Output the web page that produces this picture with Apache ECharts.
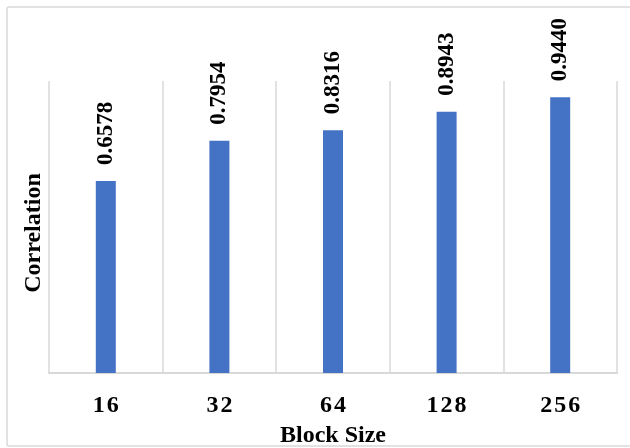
<!DOCTYPE html>
<html>
<head>
<meta charset="utf-8">
<script src="https://cdn.jsdelivr.net/npm/echarts@6/dist/echarts.min.js"></script>
<style>
  html, body { margin: 0; padding: 0; background: #fff; }
  #chart { width: 630px; height: 448px; }
</style>
</head>
<body>
<div id="chart"></div>
<script>
"use strict";

const blockSizes = ["16", "32", "64", "128", "256"];
const correlation = [0.6578, 0.7954, 0.8316, 0.8943, 0.944];

const serif = "'Liberation Serif', 'Times New Roman', serif";
const gridGray = "#d9d9d9";

const chart = echarts.init(document.getElementById("chart"));

/** @type {echarts.EChartsOption} */
const options = {
  backgroundColor: "#fff",
  animation: false,
  textStyle: { fontFamily: serif, color: "#000" },
  // chart area border like the office export
  graphic: [
    {
      type: "rect",
      shape: { x: 7, y: 7, width: 640, height: 439, r: 2 },
      style: { fill: "none", stroke: gridGray, lineWidth: 1.5 },
      silent: true,
    },
  ],
  grid: { left: 49, right: 13, top: 81, bottom: 75, outerBoundsMode: "none" },
  xAxis: {
    type: "category",
    data: blockSizes,
    name: "Block Size",
    nameLocation: "middle",
    nameGap: 51,
    nameTextStyle: { fontFamily: serif, fontWeight: "bold", fontSize: 24, color: "#000" },
    axisLine: { lineStyle: { color: gridGray, width: 2 } },
    axisTick: { show: false },
    axisLabel: {
      margin: 21,
      fontFamily: serif,
      fontWeight: "bold",
      fontSize: 24,
      color: "#000",
      formatter: (v) => v.split("").join("\u200A"),
    },
    splitLine: { show: true, lineStyle: { color: gridGray, width: 1.5 } },
  },
  yAxis: {
    type: "value",
    min: 0,
    max: 1,
    name: "Correlation",
    nameLocation: "middle",
    nameRotate: 90,
    nameGap: 3,
    nameTextStyle: {
      fontFamily: serif,
      fontWeight: "bold",
      fontSize: 24,
      color: "#000",
      padding: [0, 12, 0, 0],
    },
    axisLine: { show: false },
    axisTick: { show: false },
    axisLabel: { show: false },
    splitLine: { show: false },
  },
  series: [
    {
      type: "bar",
      data: correlation,
      barWidth: 20,
      itemStyle: { color: "#4472C4" },
      label: {
        show: true,
        position: "top",
        rotate: 90,
        align: "left",
        verticalAlign: "middle",
        distance: 16,
        fontFamily: serif,
        fontWeight: "bold",
        fontSize: 23,
        color: "#000",
        formatter: (p) => p.value.toFixed(4),
      },
    },
  ],
};

chart.setOption(options);
</script>
</body>
</html>
